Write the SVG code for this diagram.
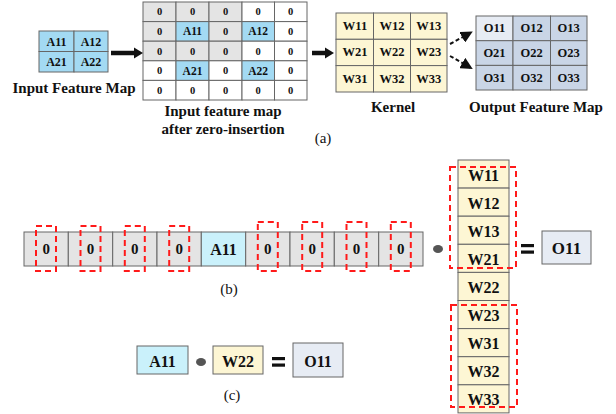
<svg xmlns="http://www.w3.org/2000/svg" width="616" height="414" viewBox="0 0 616 414">
<defs>
<style>
text{font-family:"Liberation Serif","Times New Roman",serif;font-weight:bold;fill:#111;text-anchor:middle;dominant-baseline:central}
.cap{font-weight:normal;font-size:15px}
.lbl{font-size:15px}
.cb{stroke:#666;stroke-width:1}
.blue{fill:#a3daf3}
.lblue{fill:#caf1fb}
.gray{fill:#e4e4e4}
.white{fill:#fff}
.yel{fill:#fdf6d4}
.out{fill:#c9d5e6}
.out1{fill:#e7ecf4}
.red{fill:none;stroke:#ff1a1a;stroke-width:2;stroke-dasharray:6,4}
</style>
<marker id="ah" markerWidth="6" markerHeight="6" refX="5" refY="3" orient="auto" markerUnits="strokeWidth">
<path d="M0,0 L6,3 L0,6 z" fill="#111"/>
</marker>
</defs>

<!-- Input feature map -->
<g id="input-map">
<rect class="blue cb" x="39" y="31" width="35" height="20.5"/>
<rect class="blue cb" x="74" y="31" width="34" height="20.5"/>
<rect class="blue cb" x="39" y="51.5" width="35" height="20.5"/>
<rect class="blue cb" x="74" y="51.5" width="34" height="20.5"/>
<g font-size="12">
<text x="56.5" y="41.5">A11</text><text x="91" y="41.5">A12</text>
<text x="56.5" y="62">A21</text><text x="91" y="62">A22</text>
</g>
<text class="lbl" x="74" y="88">Input Feature Map</text>
</g>

<!-- Zero-inserted map -->
<g id="zero-map">
<g class="cb">
<rect class="gray" x="143" y="2" width="33" height="19.6"/><rect class="gray" x="176" y="2" width="33" height="19.6"/><rect class="gray" x="209" y="2" width="33" height="19.6"/><rect class="white" x="242" y="2" width="32.5" height="19.6"/><rect class="white" x="274.5" y="2" width="32.5" height="19.6"/>
<rect class="gray" x="143" y="21.6" width="33" height="19.6"/><rect class="blue" x="176" y="21.6" width="33" height="19.6"/><rect class="gray" x="209" y="21.6" width="33" height="19.6"/><rect class="blue" x="242" y="21.6" width="32.5" height="19.6"/><rect class="white" x="274.5" y="21.6" width="32.5" height="19.6"/>
<rect class="gray" x="143" y="41.2" width="33" height="19.6"/><rect class="gray" x="176" y="41.2" width="33" height="19.6"/><rect class="gray" x="209" y="41.2" width="33" height="19.6"/><rect class="white" x="242" y="41.2" width="32.5" height="19.6"/><rect class="white" x="274.5" y="41.2" width="32.5" height="19.6"/>
<rect class="white" x="143" y="60.8" width="33" height="19.6"/><rect class="blue" x="176" y="60.8" width="33" height="19.6"/><rect class="white" x="209" y="60.8" width="33" height="19.6"/><rect class="blue" x="242" y="60.8" width="32.5" height="19.6"/><rect class="white" x="274.5" y="60.8" width="32.5" height="19.6"/>
<rect class="white" x="143" y="80.4" width="33" height="19.6"/><rect class="white" x="176" y="80.4" width="33" height="19.6"/><rect class="white" x="209" y="80.4" width="33" height="19.6"/><rect class="white" x="242" y="80.4" width="32.5" height="19.6"/><rect class="white" x="274.5" y="80.4" width="32.5" height="19.6"/>
</g>
<g font-size="10.5">
<text x="159.5" y="11.8">0</text><text x="192.5" y="11.8">0</text><text x="225.5" y="11.8">0</text><text x="258.2" y="11.8">0</text><text x="290.7" y="11.8">0</text>
<text x="159.5" y="31.4">0</text><text x="192.5" y="31.4" font-size="11.5">A11</text><text x="225.5" y="31.4">0</text><text x="258.2" y="31.4" font-size="11.5">A12</text><text x="290.7" y="31.4">0</text>
<text x="159.5" y="51">0</text><text x="192.5" y="51">0</text><text x="225.5" y="51">0</text><text x="258.2" y="51">0</text><text x="290.7" y="51">0</text>
<text x="159.5" y="70.6">0</text><text x="192.5" y="70.6" font-size="11.5">A21</text><text x="225.5" y="70.6">0</text><text x="258.2" y="70.6" font-size="11.5">A22</text><text x="290.7" y="70.6">0</text>
<text x="159.5" y="90.2">0</text><text x="192.5" y="90.2">0</text><text x="225.5" y="90.2">0</text><text x="258.2" y="90.2">0</text><text x="290.7" y="90.2">0</text>
</g>
<text class="lbl" x="223" y="111" font-size="15.5">Input feature map</text>
<text class="lbl" x="223" y="129" font-size="15.5">after zero-insertion</text>
</g>

<!-- Kernel -->
<g id="kernel">
<g class="cb">
<rect class="yel" x="336" y="13" width="37.5" height="26.3"/><rect class="yel" x="373.5" y="13" width="37" height="26.3"/><rect class="yel" x="410.5" y="13" width="36.5" height="26.3"/>
<rect class="yel" x="336" y="39.3" width="37.5" height="26.3"/><rect class="yel" x="373.5" y="39.3" width="37" height="26.3"/><rect class="yel" x="410.5" y="39.3" width="36.5" height="26.3"/>
<rect class="yel" x="336" y="65.6" width="37.5" height="26.4"/><rect class="yel" x="373.5" y="65.6" width="37" height="26.4"/><rect class="yel" x="410.5" y="65.6" width="36.5" height="26.4"/>
</g>
<g font-size="12.5">
<text x="355" y="26">W11</text><text x="392" y="26">W12</text><text x="428.7" y="26">W13</text>
<text x="355" y="52.4">W21</text><text x="392" y="52.4">W22</text><text x="428.7" y="52.4">W23</text>
<text x="355" y="78.8">W31</text><text x="392" y="78.8">W32</text><text x="428.7" y="78.8">W33</text>
</g>
<text class="lbl" x="393" y="107">Kernel</text>
</g>

<!-- Output feature map -->
<g id="output-map">
<g class="cb">
<rect class="out1" x="476" y="16" width="37" height="24.7"/><rect class="out" x="513" y="16" width="37.5" height="24.7"/><rect class="out" x="550.5" y="16" width="36.5" height="24.7"/>
<rect class="out" x="476" y="40.7" width="37" height="24.7"/><rect class="out" x="513" y="40.7" width="37.5" height="24.7"/><rect class="out" x="550.5" y="40.7" width="36.5" height="24.7"/>
<rect class="out" x="476" y="65.4" width="37" height="24.6"/><rect class="out" x="513" y="65.4" width="37.5" height="24.6"/><rect class="out" x="550.5" y="65.4" width="36.5" height="24.6"/>
</g>
<g font-size="12.5">
<text x="494.5" y="28.3">O11</text><text x="531.7" y="28.3">O12</text><text x="568.7" y="28.3">O13</text>
<text x="494.5" y="53">O21</text><text x="531.7" y="53">O22</text><text x="568.7" y="53">O23</text>
<text x="494.5" y="77.7">O31</text><text x="531.7" y="77.7">O32</text><text x="568.7" y="77.7">O33</text>
</g>
<text class="lbl" x="536" y="107">Output Feature Map</text>
</g>

<text class="cap" x="323" y="138">(a)</text>

<!-- Connectors -->
<g id="connectors">
<line x1="111" y1="53" x2="135" y2="53" stroke="#111" stroke-width="4.5"/>
<polygon points="134,47.5 143,53 134,58.5" fill="#111"/>
<line x1="312" y1="53" x2="326" y2="53" stroke="#111" stroke-width="4.5"/>
<polygon points="325,47.5 334,53 325,58.5" fill="#111"/>
<line x1="450" y1="44" x2="471" y2="32.5" stroke="#111" stroke-width="2" stroke-dasharray="4,2.5" marker-end="url(#ah)"/>
<line x1="450" y1="56" x2="471" y2="68" stroke="#111" stroke-width="2" stroke-dasharray="4,2.5" marker-end="url(#ah)"/>
</g>

<!-- (b) strip -->
<g id="strip">
<g class="cb" stroke-width="1.2">
<rect class="gray" x="24" y="232" width="44.3" height="34"/>
<rect class="gray" x="68.3" y="232" width="44.4" height="34"/>
<rect class="gray" x="112.7" y="232" width="44.3" height="34"/>
<rect class="gray" x="157" y="232" width="44.3" height="34"/>
<rect class="lblue" x="201.3" y="232" width="44.4" height="34"/>
<rect class="gray" x="245.7" y="232" width="44.3" height="34"/>
<rect class="gray" x="290" y="232" width="44.3" height="34"/>
<rect class="gray" x="334.3" y="232" width="44.4" height="34"/>
<rect class="gray" x="378.7" y="232" width="44.3" height="34"/>
</g>
<g font-size="15">
<text x="46.2" y="249">0</text><text x="90.5" y="249">0</text><text x="134.8" y="249">0</text><text x="179.2" y="249">0</text>
<text x="223.5" y="249" font-size="16">A11</text>
<text x="267.8" y="249">0</text><text x="312.2" y="249">0</text><text x="356.5" y="249">0</text><text x="400.8" y="249">0</text>
</g>
<g class="red">
<rect x="36" y="226" width="20" height="45"/>
<rect x="80.5" y="226" width="20" height="45"/>
<rect x="124.8" y="226" width="20" height="45"/>
<rect x="169.2" y="226" width="20" height="45"/>
<rect x="257.8" y="222" width="20" height="49"/>
<rect x="302.2" y="222" width="20" height="49"/>
<rect x="346.5" y="222" width="20" height="49"/>
<rect x="390.8" y="222" width="20" height="49"/>
</g>
<text class="cap" x="229" y="289">(b)</text>
</g>

<g id="dot-b"><ellipse cx="438" cy="249" rx="5" ry="4" fill="#555"/></g>

<g id="w-column">
<g class="cb" stroke-width="1.2">
<rect class="yel" x="458" y="160" width="51" height="28.1"/>
<rect class="yel" x="458" y="188.1" width="51" height="28.1"/>
<rect class="yel" x="458" y="216.2" width="51" height="28.1"/>
<rect class="yel" x="458" y="244.3" width="51" height="28.1"/>
<rect class="yel" x="458" y="272.4" width="51" height="28.1"/>
<rect class="yel" x="458" y="300.5" width="51" height="28.1"/>
<rect class="yel" x="458" y="328.6" width="51" height="28.1"/>
<rect class="yel" x="458" y="356.7" width="51" height="28.1"/>
<rect class="yel" x="458" y="384.8" width="51" height="28.1"/>
</g>
<g font-size="16">
<text x="483.5" y="175">W11</text>
<text x="483.5" y="203">W12</text>
<text x="483.5" y="231">W13</text>
<text x="483.5" y="259">W21</text>
<text x="483.5" y="287">W22</text>
<text x="483.5" y="315">W23</text>
<text x="483.5" y="343">W31</text>
<text x="483.5" y="371">W32</text>
<text x="483.5" y="399">W33</text>
</g>
<rect class="red" x="450" y="167" width="66" height="101"/>
<rect class="red" x="451" y="305" width="66" height="102"/>
</g>

<g id="eq-b">
<rect x="521" y="244" width="13" height="3.2" fill="#111"/>
<rect x="521" y="250.5" width="13" height="3.2" fill="#111"/>
</g>

<g id="o11-b">
<rect class="out1 cb" stroke-width="1.2" x="542" y="231" width="49" height="33"/>
<text x="566.5" y="248" font-size="17">O11</text>
</g>

<!-- (c) -->
<g id="a11-c">
<rect class="lblue cb" stroke-width="1.2" x="137" y="346" width="51" height="28"/>
<text x="162.5" y="361" font-size="16">A11</text>
</g>
<g id="dot-c"><ellipse cx="201" cy="362" rx="5" ry="4" fill="#555"/></g>
<g id="w22-c">
<rect class="yel cb" stroke-width="1.2" x="213" y="346" width="50" height="28"/>
<text x="238" y="361" font-size="16">W22</text>
</g>
<g id="eq-c">
<rect x="272" y="357" width="13" height="3.2" fill="#111"/>
<rect x="272" y="363.5" width="13" height="3.2" fill="#111"/>
</g>
<g id="o11-c">
<rect class="out1 cb" stroke-width="1.2" x="293" y="343" width="50" height="34"/>
<text x="318" y="361" font-size="16">O11</text>
</g>
<text class="cap" x="232" y="395">(c)</text>
</svg>
